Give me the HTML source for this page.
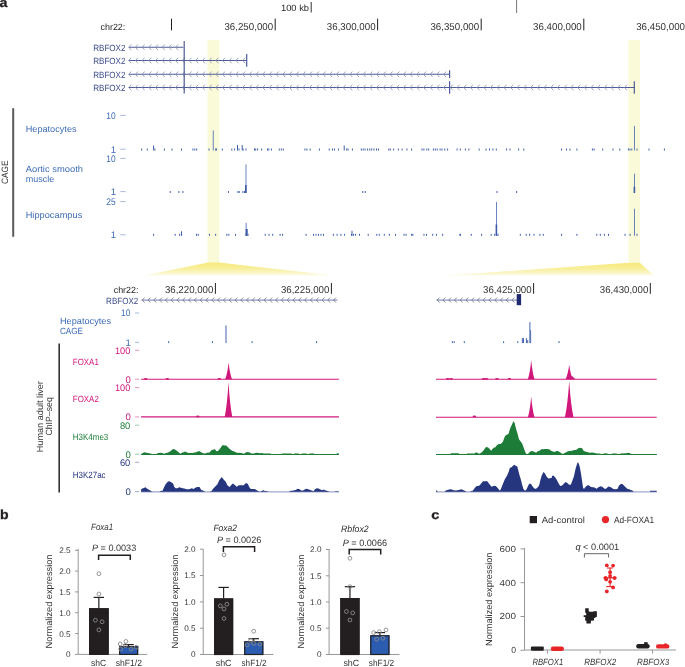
<!DOCTYPE html>
<html><head><meta charset="utf-8"><style>
html,body{margin:0;padding:0;background:#fff;}
svg{display:block;font-family:"Liberation Sans", sans-serif;will-change:transform;text-rendering:geometricPrecision;}
</style></head><body>
<svg width="685" height="667" viewBox="0 0 685 667">
<rect x="0" y="0" width="685" height="667" fill="#fff"/>
<text x="-0.40" y="7.20" font-size="13.2" fill="#231f20" textLength="7.90" lengthAdjust="spacingAndGlyphs" font-weight="bold" stroke="#231f20" stroke-width="0.3">a</text>
<rect x="207.50" y="40.00" width="11.80" height="222.50" fill="#fafad8" />
<rect x="628.50" y="40.00" width="11.50" height="222.80" fill="#fafad8" />
<defs><linearGradient id="tg" x1="0" y1="0" x2="0" y2="1"><stop offset="0" stop-color="#f6ea7a"/><stop offset="0.5" stop-color="#f8ef9e"/><stop offset="1" stop-color="#fdfbe8"/></linearGradient><linearGradient id="tgl" x1="1" y1="0" x2="0" y2="0"><stop offset="0" stop-color="#fff" stop-opacity="0"/><stop offset="1" stop-color="#fff" stop-opacity="0.7"/></linearGradient><linearGradient id="tgr" x1="0" y1="0" x2="1" y2="0"><stop offset="0" stop-color="#fff" stop-opacity="0"/><stop offset="1" stop-color="#fff" stop-opacity="0.7"/></linearGradient></defs>
<polygon points="208,262.5 219.3,262.5 334,275.5 144.5,275.5" fill="url(#tg)"/>
<polygon points="628.9,262.8 639.8,262.8 654,275.6 443.2,275.6" fill="url(#tg)"/>
<text x="281.00" y="11.20" font-size="9" fill="#231f20" textLength="28.00" lengthAdjust="spacingAndGlyphs">100 kb</text>
<line x1="311.20" y1="2.00" x2="311.20" y2="12.50" stroke="#333" stroke-width="1" />
<line x1="516.60" y1="0.00" x2="516.60" y2="13.00" stroke="#777" stroke-width="1" />
<text x="100.50" y="29.60" font-size="9" fill="#231f20" textLength="24.80" lengthAdjust="spacingAndGlyphs">chr22:</text>
<line x1="171.50" y1="18.60" x2="171.50" y2="30.40" stroke="#231f20" stroke-width="1" />
<line x1="275.20" y1="18.60" x2="275.20" y2="30.40" stroke="#231f20" stroke-width="1" />
<line x1="377.60" y1="18.60" x2="377.60" y2="30.40" stroke="#231f20" stroke-width="1" />
<line x1="481.20" y1="18.60" x2="481.20" y2="30.40" stroke="#231f20" stroke-width="1" />
<line x1="583.80" y1="18.60" x2="583.80" y2="30.40" stroke="#231f20" stroke-width="1" />
<line x1="687.00" y1="18.60" x2="687.00" y2="30.40" stroke="#231f20" stroke-width="1" />
<text x="224.40" y="30.00" font-size="10" fill="#333" textLength="48.80" lengthAdjust="spacingAndGlyphs">36,250,000</text>
<text x="326.80" y="30.00" font-size="10" fill="#333" textLength="48.80" lengthAdjust="spacingAndGlyphs">36,300,000</text>
<text x="430.40" y="30.00" font-size="10" fill="#333" textLength="48.80" lengthAdjust="spacingAndGlyphs">36,350,000</text>
<text x="533.00" y="30.00" font-size="10" fill="#333" textLength="48.80" lengthAdjust="spacingAndGlyphs">36,400,000</text>
<text x="636.20" y="30.00" font-size="10" fill="#333" textLength="48.80" lengthAdjust="spacingAndGlyphs">36,450,000</text>
<text x="93.20" y="50.70" font-size="9" fill="#3d4b8c" textLength="32.30" lengthAdjust="spacingAndGlyphs">RBFOX2</text>
<text x="93.20" y="63.90" font-size="9" fill="#3d4b8c" textLength="32.30" lengthAdjust="spacingAndGlyphs">RBFOX2</text>
<text x="93.20" y="77.70" font-size="9" fill="#3d4b8c" textLength="32.30" lengthAdjust="spacingAndGlyphs">RBFOX2</text>
<text x="93.20" y="90.90" font-size="9" fill="#3d4b8c" textLength="32.30" lengthAdjust="spacingAndGlyphs">RBFOX2</text>
<line x1="128.80" y1="47.30" x2="183.40" y2="47.30" stroke="#4d5b98" stroke-width="1.1" />
<path d="M131.20,44.50 L128.80,47.30 L131.20,50.10" fill="none" stroke="#8a8fa8" stroke-width="0.8"/>
<path d="M137.90,44.50 L135.50,47.30 L137.90,50.10" fill="none" stroke="#8a8fa8" stroke-width="0.8"/>
<path d="M144.60,44.50 L142.20,47.30 L144.60,50.10" fill="none" stroke="#8a8fa8" stroke-width="0.8"/>
<path d="M151.30,44.50 L148.90,47.30 L151.30,50.10" fill="none" stroke="#8a8fa8" stroke-width="0.8"/>
<path d="M158.00,44.50 L155.60,47.30 L158.00,50.10" fill="none" stroke="#8a8fa8" stroke-width="0.8"/>
<path d="M164.70,44.50 L162.30,47.30 L164.70,50.10" fill="none" stroke="#8a8fa8" stroke-width="0.8"/>
<path d="M171.40,44.50 L169.00,47.30 L171.40,50.10" fill="none" stroke="#8a8fa8" stroke-width="0.8"/>
<path d="M178.10,44.50 L175.70,47.30 L178.10,50.10" fill="none" stroke="#8a8fa8" stroke-width="0.8"/>
<line x1="128.80" y1="60.50" x2="246.70" y2="60.50" stroke="#4d5b98" stroke-width="1.1" />
<path d="M131.20,57.70 L128.80,60.50 L131.20,63.30" fill="none" stroke="#8a8fa8" stroke-width="0.8"/>
<path d="M137.90,57.70 L135.50,60.50 L137.90,63.30" fill="none" stroke="#8a8fa8" stroke-width="0.8"/>
<path d="M144.60,57.70 L142.20,60.50 L144.60,63.30" fill="none" stroke="#8a8fa8" stroke-width="0.8"/>
<path d="M151.30,57.70 L148.90,60.50 L151.30,63.30" fill="none" stroke="#8a8fa8" stroke-width="0.8"/>
<path d="M158.00,57.70 L155.60,60.50 L158.00,63.30" fill="none" stroke="#8a8fa8" stroke-width="0.8"/>
<path d="M164.70,57.70 L162.30,60.50 L164.70,63.30" fill="none" stroke="#8a8fa8" stroke-width="0.8"/>
<path d="M171.40,57.70 L169.00,60.50 L171.40,63.30" fill="none" stroke="#8a8fa8" stroke-width="0.8"/>
<path d="M178.10,57.70 L175.70,60.50 L178.10,63.30" fill="none" stroke="#8a8fa8" stroke-width="0.8"/>
<path d="M184.80,57.70 L182.40,60.50 L184.80,63.30" fill="none" stroke="#8a8fa8" stroke-width="0.8"/>
<path d="M191.50,57.70 L189.10,60.50 L191.50,63.30" fill="none" stroke="#8a8fa8" stroke-width="0.8"/>
<path d="M198.20,57.70 L195.80,60.50 L198.20,63.30" fill="none" stroke="#8a8fa8" stroke-width="0.8"/>
<path d="M204.90,57.70 L202.50,60.50 L204.90,63.30" fill="none" stroke="#8a8fa8" stroke-width="0.8"/>
<path d="M211.60,57.70 L209.20,60.50 L211.60,63.30" fill="none" stroke="#8a8fa8" stroke-width="0.8"/>
<path d="M218.30,57.70 L215.90,60.50 L218.30,63.30" fill="none" stroke="#8a8fa8" stroke-width="0.8"/>
<path d="M225.00,57.70 L222.60,60.50 L225.00,63.30" fill="none" stroke="#8a8fa8" stroke-width="0.8"/>
<path d="M231.70,57.70 L229.30,60.50 L231.70,63.30" fill="none" stroke="#8a8fa8" stroke-width="0.8"/>
<path d="M238.40,57.70 L236.00,60.50 L238.40,63.30" fill="none" stroke="#8a8fa8" stroke-width="0.8"/>
<path d="M245.10,57.70 L242.70,60.50 L245.10,63.30" fill="none" stroke="#8a8fa8" stroke-width="0.8"/>
<line x1="128.80" y1="74.30" x2="449.60" y2="74.30" stroke="#4d5b98" stroke-width="1.1" />
<path d="M131.20,71.50 L128.80,74.30 L131.20,77.10" fill="none" stroke="#8a8fa8" stroke-width="0.8"/>
<path d="M137.90,71.50 L135.50,74.30 L137.90,77.10" fill="none" stroke="#8a8fa8" stroke-width="0.8"/>
<path d="M144.60,71.50 L142.20,74.30 L144.60,77.10" fill="none" stroke="#8a8fa8" stroke-width="0.8"/>
<path d="M151.30,71.50 L148.90,74.30 L151.30,77.10" fill="none" stroke="#8a8fa8" stroke-width="0.8"/>
<path d="M158.00,71.50 L155.60,74.30 L158.00,77.10" fill="none" stroke="#8a8fa8" stroke-width="0.8"/>
<path d="M164.70,71.50 L162.30,74.30 L164.70,77.10" fill="none" stroke="#8a8fa8" stroke-width="0.8"/>
<path d="M171.40,71.50 L169.00,74.30 L171.40,77.10" fill="none" stroke="#8a8fa8" stroke-width="0.8"/>
<path d="M178.10,71.50 L175.70,74.30 L178.10,77.10" fill="none" stroke="#8a8fa8" stroke-width="0.8"/>
<path d="M184.80,71.50 L182.40,74.30 L184.80,77.10" fill="none" stroke="#8a8fa8" stroke-width="0.8"/>
<path d="M191.50,71.50 L189.10,74.30 L191.50,77.10" fill="none" stroke="#8a8fa8" stroke-width="0.8"/>
<path d="M198.20,71.50 L195.80,74.30 L198.20,77.10" fill="none" stroke="#8a8fa8" stroke-width="0.8"/>
<path d="M204.90,71.50 L202.50,74.30 L204.90,77.10" fill="none" stroke="#8a8fa8" stroke-width="0.8"/>
<path d="M211.60,71.50 L209.20,74.30 L211.60,77.10" fill="none" stroke="#8a8fa8" stroke-width="0.8"/>
<path d="M218.30,71.50 L215.90,74.30 L218.30,77.10" fill="none" stroke="#8a8fa8" stroke-width="0.8"/>
<path d="M225.00,71.50 L222.60,74.30 L225.00,77.10" fill="none" stroke="#8a8fa8" stroke-width="0.8"/>
<path d="M231.70,71.50 L229.30,74.30 L231.70,77.10" fill="none" stroke="#8a8fa8" stroke-width="0.8"/>
<path d="M238.40,71.50 L236.00,74.30 L238.40,77.10" fill="none" stroke="#8a8fa8" stroke-width="0.8"/>
<path d="M245.10,71.50 L242.70,74.30 L245.10,77.10" fill="none" stroke="#8a8fa8" stroke-width="0.8"/>
<path d="M251.80,71.50 L249.40,74.30 L251.80,77.10" fill="none" stroke="#8a8fa8" stroke-width="0.8"/>
<path d="M258.50,71.50 L256.10,74.30 L258.50,77.10" fill="none" stroke="#8a8fa8" stroke-width="0.8"/>
<path d="M265.20,71.50 L262.80,74.30 L265.20,77.10" fill="none" stroke="#8a8fa8" stroke-width="0.8"/>
<path d="M271.90,71.50 L269.50,74.30 L271.90,77.10" fill="none" stroke="#8a8fa8" stroke-width="0.8"/>
<path d="M278.60,71.50 L276.20,74.30 L278.60,77.10" fill="none" stroke="#8a8fa8" stroke-width="0.8"/>
<path d="M285.30,71.50 L282.90,74.30 L285.30,77.10" fill="none" stroke="#8a8fa8" stroke-width="0.8"/>
<path d="M292.00,71.50 L289.60,74.30 L292.00,77.10" fill="none" stroke="#8a8fa8" stroke-width="0.8"/>
<path d="M298.70,71.50 L296.30,74.30 L298.70,77.10" fill="none" stroke="#8a8fa8" stroke-width="0.8"/>
<path d="M305.40,71.50 L303.00,74.30 L305.40,77.10" fill="none" stroke="#8a8fa8" stroke-width="0.8"/>
<path d="M312.10,71.50 L309.70,74.30 L312.10,77.10" fill="none" stroke="#8a8fa8" stroke-width="0.8"/>
<path d="M318.80,71.50 L316.40,74.30 L318.80,77.10" fill="none" stroke="#8a8fa8" stroke-width="0.8"/>
<path d="M325.50,71.50 L323.10,74.30 L325.50,77.10" fill="none" stroke="#8a8fa8" stroke-width="0.8"/>
<path d="M332.20,71.50 L329.80,74.30 L332.20,77.10" fill="none" stroke="#8a8fa8" stroke-width="0.8"/>
<path d="M338.90,71.50 L336.50,74.30 L338.90,77.10" fill="none" stroke="#8a8fa8" stroke-width="0.8"/>
<path d="M345.60,71.50 L343.20,74.30 L345.60,77.10" fill="none" stroke="#8a8fa8" stroke-width="0.8"/>
<path d="M352.30,71.50 L349.90,74.30 L352.30,77.10" fill="none" stroke="#8a8fa8" stroke-width="0.8"/>
<path d="M359.00,71.50 L356.60,74.30 L359.00,77.10" fill="none" stroke="#8a8fa8" stroke-width="0.8"/>
<path d="M365.70,71.50 L363.30,74.30 L365.70,77.10" fill="none" stroke="#8a8fa8" stroke-width="0.8"/>
<path d="M372.40,71.50 L370.00,74.30 L372.40,77.10" fill="none" stroke="#8a8fa8" stroke-width="0.8"/>
<path d="M379.10,71.50 L376.70,74.30 L379.10,77.10" fill="none" stroke="#8a8fa8" stroke-width="0.8"/>
<path d="M385.80,71.50 L383.40,74.30 L385.80,77.10" fill="none" stroke="#8a8fa8" stroke-width="0.8"/>
<path d="M392.50,71.50 L390.10,74.30 L392.50,77.10" fill="none" stroke="#8a8fa8" stroke-width="0.8"/>
<path d="M399.20,71.50 L396.80,74.30 L399.20,77.10" fill="none" stroke="#8a8fa8" stroke-width="0.8"/>
<path d="M405.90,71.50 L403.50,74.30 L405.90,77.10" fill="none" stroke="#8a8fa8" stroke-width="0.8"/>
<path d="M412.60,71.50 L410.20,74.30 L412.60,77.10" fill="none" stroke="#8a8fa8" stroke-width="0.8"/>
<path d="M419.30,71.50 L416.90,74.30 L419.30,77.10" fill="none" stroke="#8a8fa8" stroke-width="0.8"/>
<path d="M426.00,71.50 L423.60,74.30 L426.00,77.10" fill="none" stroke="#8a8fa8" stroke-width="0.8"/>
<path d="M432.70,71.50 L430.30,74.30 L432.70,77.10" fill="none" stroke="#8a8fa8" stroke-width="0.8"/>
<path d="M439.40,71.50 L437.00,74.30 L439.40,77.10" fill="none" stroke="#8a8fa8" stroke-width="0.8"/>
<path d="M446.10,71.50 L443.70,74.30 L446.10,77.10" fill="none" stroke="#8a8fa8" stroke-width="0.8"/>
<line x1="128.80" y1="87.50" x2="634.30" y2="87.50" stroke="#4d5b98" stroke-width="1.1" />
<path d="M131.20,84.70 L128.80,87.50 L131.20,90.30" fill="none" stroke="#8a8fa8" stroke-width="0.8"/>
<path d="M137.90,84.70 L135.50,87.50 L137.90,90.30" fill="none" stroke="#8a8fa8" stroke-width="0.8"/>
<path d="M144.60,84.70 L142.20,87.50 L144.60,90.30" fill="none" stroke="#8a8fa8" stroke-width="0.8"/>
<path d="M151.30,84.70 L148.90,87.50 L151.30,90.30" fill="none" stroke="#8a8fa8" stroke-width="0.8"/>
<path d="M158.00,84.70 L155.60,87.50 L158.00,90.30" fill="none" stroke="#8a8fa8" stroke-width="0.8"/>
<path d="M164.70,84.70 L162.30,87.50 L164.70,90.30" fill="none" stroke="#8a8fa8" stroke-width="0.8"/>
<path d="M171.40,84.70 L169.00,87.50 L171.40,90.30" fill="none" stroke="#8a8fa8" stroke-width="0.8"/>
<path d="M178.10,84.70 L175.70,87.50 L178.10,90.30" fill="none" stroke="#8a8fa8" stroke-width="0.8"/>
<path d="M184.80,84.70 L182.40,87.50 L184.80,90.30" fill="none" stroke="#8a8fa8" stroke-width="0.8"/>
<path d="M191.50,84.70 L189.10,87.50 L191.50,90.30" fill="none" stroke="#8a8fa8" stroke-width="0.8"/>
<path d="M198.20,84.70 L195.80,87.50 L198.20,90.30" fill="none" stroke="#8a8fa8" stroke-width="0.8"/>
<path d="M204.90,84.70 L202.50,87.50 L204.90,90.30" fill="none" stroke="#8a8fa8" stroke-width="0.8"/>
<path d="M211.60,84.70 L209.20,87.50 L211.60,90.30" fill="none" stroke="#8a8fa8" stroke-width="0.8"/>
<path d="M218.30,84.70 L215.90,87.50 L218.30,90.30" fill="none" stroke="#8a8fa8" stroke-width="0.8"/>
<path d="M225.00,84.70 L222.60,87.50 L225.00,90.30" fill="none" stroke="#8a8fa8" stroke-width="0.8"/>
<path d="M231.70,84.70 L229.30,87.50 L231.70,90.30" fill="none" stroke="#8a8fa8" stroke-width="0.8"/>
<path d="M238.40,84.70 L236.00,87.50 L238.40,90.30" fill="none" stroke="#8a8fa8" stroke-width="0.8"/>
<path d="M245.10,84.70 L242.70,87.50 L245.10,90.30" fill="none" stroke="#8a8fa8" stroke-width="0.8"/>
<path d="M251.80,84.70 L249.40,87.50 L251.80,90.30" fill="none" stroke="#8a8fa8" stroke-width="0.8"/>
<path d="M258.50,84.70 L256.10,87.50 L258.50,90.30" fill="none" stroke="#8a8fa8" stroke-width="0.8"/>
<path d="M265.20,84.70 L262.80,87.50 L265.20,90.30" fill="none" stroke="#8a8fa8" stroke-width="0.8"/>
<path d="M271.90,84.70 L269.50,87.50 L271.90,90.30" fill="none" stroke="#8a8fa8" stroke-width="0.8"/>
<path d="M278.60,84.70 L276.20,87.50 L278.60,90.30" fill="none" stroke="#8a8fa8" stroke-width="0.8"/>
<path d="M285.30,84.70 L282.90,87.50 L285.30,90.30" fill="none" stroke="#8a8fa8" stroke-width="0.8"/>
<path d="M292.00,84.70 L289.60,87.50 L292.00,90.30" fill="none" stroke="#8a8fa8" stroke-width="0.8"/>
<path d="M298.70,84.70 L296.30,87.50 L298.70,90.30" fill="none" stroke="#8a8fa8" stroke-width="0.8"/>
<path d="M305.40,84.70 L303.00,87.50 L305.40,90.30" fill="none" stroke="#8a8fa8" stroke-width="0.8"/>
<path d="M312.10,84.70 L309.70,87.50 L312.10,90.30" fill="none" stroke="#8a8fa8" stroke-width="0.8"/>
<path d="M318.80,84.70 L316.40,87.50 L318.80,90.30" fill="none" stroke="#8a8fa8" stroke-width="0.8"/>
<path d="M325.50,84.70 L323.10,87.50 L325.50,90.30" fill="none" stroke="#8a8fa8" stroke-width="0.8"/>
<path d="M332.20,84.70 L329.80,87.50 L332.20,90.30" fill="none" stroke="#8a8fa8" stroke-width="0.8"/>
<path d="M338.90,84.70 L336.50,87.50 L338.90,90.30" fill="none" stroke="#8a8fa8" stroke-width="0.8"/>
<path d="M345.60,84.70 L343.20,87.50 L345.60,90.30" fill="none" stroke="#8a8fa8" stroke-width="0.8"/>
<path d="M352.30,84.70 L349.90,87.50 L352.30,90.30" fill="none" stroke="#8a8fa8" stroke-width="0.8"/>
<path d="M359.00,84.70 L356.60,87.50 L359.00,90.30" fill="none" stroke="#8a8fa8" stroke-width="0.8"/>
<path d="M365.70,84.70 L363.30,87.50 L365.70,90.30" fill="none" stroke="#8a8fa8" stroke-width="0.8"/>
<path d="M372.40,84.70 L370.00,87.50 L372.40,90.30" fill="none" stroke="#8a8fa8" stroke-width="0.8"/>
<path d="M379.10,84.70 L376.70,87.50 L379.10,90.30" fill="none" stroke="#8a8fa8" stroke-width="0.8"/>
<path d="M385.80,84.70 L383.40,87.50 L385.80,90.30" fill="none" stroke="#8a8fa8" stroke-width="0.8"/>
<path d="M392.50,84.70 L390.10,87.50 L392.50,90.30" fill="none" stroke="#8a8fa8" stroke-width="0.8"/>
<path d="M399.20,84.70 L396.80,87.50 L399.20,90.30" fill="none" stroke="#8a8fa8" stroke-width="0.8"/>
<path d="M405.90,84.70 L403.50,87.50 L405.90,90.30" fill="none" stroke="#8a8fa8" stroke-width="0.8"/>
<path d="M412.60,84.70 L410.20,87.50 L412.60,90.30" fill="none" stroke="#8a8fa8" stroke-width="0.8"/>
<path d="M419.30,84.70 L416.90,87.50 L419.30,90.30" fill="none" stroke="#8a8fa8" stroke-width="0.8"/>
<path d="M426.00,84.70 L423.60,87.50 L426.00,90.30" fill="none" stroke="#8a8fa8" stroke-width="0.8"/>
<path d="M432.70,84.70 L430.30,87.50 L432.70,90.30" fill="none" stroke="#8a8fa8" stroke-width="0.8"/>
<path d="M439.40,84.70 L437.00,87.50 L439.40,90.30" fill="none" stroke="#8a8fa8" stroke-width="0.8"/>
<path d="M446.10,84.70 L443.70,87.50 L446.10,90.30" fill="none" stroke="#8a8fa8" stroke-width="0.8"/>
<path d="M452.80,84.70 L450.40,87.50 L452.80,90.30" fill="none" stroke="#8a8fa8" stroke-width="0.8"/>
<path d="M459.50,84.70 L457.10,87.50 L459.50,90.30" fill="none" stroke="#8a8fa8" stroke-width="0.8"/>
<path d="M466.20,84.70 L463.80,87.50 L466.20,90.30" fill="none" stroke="#8a8fa8" stroke-width="0.8"/>
<path d="M472.90,84.70 L470.50,87.50 L472.90,90.30" fill="none" stroke="#8a8fa8" stroke-width="0.8"/>
<path d="M479.60,84.70 L477.20,87.50 L479.60,90.30" fill="none" stroke="#8a8fa8" stroke-width="0.8"/>
<path d="M486.30,84.70 L483.90,87.50 L486.30,90.30" fill="none" stroke="#8a8fa8" stroke-width="0.8"/>
<path d="M493.00,84.70 L490.60,87.50 L493.00,90.30" fill="none" stroke="#8a8fa8" stroke-width="0.8"/>
<path d="M499.70,84.70 L497.30,87.50 L499.70,90.30" fill="none" stroke="#8a8fa8" stroke-width="0.8"/>
<path d="M506.40,84.70 L504.00,87.50 L506.40,90.30" fill="none" stroke="#8a8fa8" stroke-width="0.8"/>
<path d="M513.10,84.70 L510.70,87.50 L513.10,90.30" fill="none" stroke="#8a8fa8" stroke-width="0.8"/>
<path d="M519.80,84.70 L517.40,87.50 L519.80,90.30" fill="none" stroke="#8a8fa8" stroke-width="0.8"/>
<path d="M526.50,84.70 L524.10,87.50 L526.50,90.30" fill="none" stroke="#8a8fa8" stroke-width="0.8"/>
<path d="M533.20,84.70 L530.80,87.50 L533.20,90.30" fill="none" stroke="#8a8fa8" stroke-width="0.8"/>
<path d="M539.90,84.70 L537.50,87.50 L539.90,90.30" fill="none" stroke="#8a8fa8" stroke-width="0.8"/>
<path d="M546.60,84.70 L544.20,87.50 L546.60,90.30" fill="none" stroke="#8a8fa8" stroke-width="0.8"/>
<path d="M553.30,84.70 L550.90,87.50 L553.30,90.30" fill="none" stroke="#8a8fa8" stroke-width="0.8"/>
<path d="M560.00,84.70 L557.60,87.50 L560.00,90.30" fill="none" stroke="#8a8fa8" stroke-width="0.8"/>
<path d="M566.70,84.70 L564.30,87.50 L566.70,90.30" fill="none" stroke="#8a8fa8" stroke-width="0.8"/>
<path d="M573.40,84.70 L571.00,87.50 L573.40,90.30" fill="none" stroke="#8a8fa8" stroke-width="0.8"/>
<path d="M580.10,84.70 L577.70,87.50 L580.10,90.30" fill="none" stroke="#8a8fa8" stroke-width="0.8"/>
<path d="M586.80,84.70 L584.40,87.50 L586.80,90.30" fill="none" stroke="#8a8fa8" stroke-width="0.8"/>
<path d="M593.50,84.70 L591.10,87.50 L593.50,90.30" fill="none" stroke="#8a8fa8" stroke-width="0.8"/>
<path d="M600.20,84.70 L597.80,87.50 L600.20,90.30" fill="none" stroke="#8a8fa8" stroke-width="0.8"/>
<path d="M606.90,84.70 L604.50,87.50 L606.90,90.30" fill="none" stroke="#8a8fa8" stroke-width="0.8"/>
<path d="M613.60,84.70 L611.20,87.50 L613.60,90.30" fill="none" stroke="#8a8fa8" stroke-width="0.8"/>
<path d="M620.30,84.70 L617.90,87.50 L620.30,90.30" fill="none" stroke="#8a8fa8" stroke-width="0.8"/>
<path d="M627.00,84.70 L624.60,87.50 L627.00,90.30" fill="none" stroke="#8a8fa8" stroke-width="0.8"/>
<line x1="184.20" y1="41.00" x2="184.20" y2="93.50" stroke="#4d5b98" stroke-width="1.2" />
<line x1="246.70" y1="54.00" x2="246.70" y2="66.80" stroke="#4d5b98" stroke-width="1.2" />
<line x1="449.60" y1="70.20" x2="449.60" y2="78.00" stroke="#4d5b98" stroke-width="1.2" />
<line x1="449.60" y1="81.20" x2="449.60" y2="93.80" stroke="#4d5b98" stroke-width="1.2" />
<line x1="634.30" y1="81.20" x2="634.30" y2="93.80" stroke="#4d5b98" stroke-width="1.2" />
<line x1="13.20" y1="108.20" x2="13.20" y2="236.80" stroke="#5a5a5a" stroke-width="2" />
<text transform="translate(8.1,184) rotate(-90)" font-size="9.2" fill="#333" textLength="23.5" lengthAdjust="spacingAndGlyphs">CAGE</text>
<text x="25.70" y="132.30" font-size="9" fill="#3e6cb6" textLength="50.90" lengthAdjust="spacingAndGlyphs">Hepatocytes</text>
<text x="25.70" y="172.30" font-size="9" fill="#3e6cb6" textLength="57.30" lengthAdjust="spacingAndGlyphs">Aortic smooth</text>
<text x="25.70" y="182.00" font-size="9" fill="#3e6cb6">muscle</text>
<text x="25.70" y="218.20" font-size="9" fill="#3e6cb6" textLength="56.60" lengthAdjust="spacingAndGlyphs">Hippocampus</text>
<text x="106.30" y="118.80" font-size="9.6" fill="#3e6cb6" textLength="9.30" lengthAdjust="spacingAndGlyphs">10</text>
<line x1="120.30" y1="115.40" x2="125.70" y2="115.40" stroke="#9fb2d8" stroke-width="0.9" />
<text x="116.20" y="152.60" font-size="9.6" fill="#3e6cb6" text-anchor="end">1</text>
<line x1="120.30" y1="149.20" x2="125.70" y2="149.20" stroke="#9fb2d8" stroke-width="0.9" />
<text x="106.30" y="161.80" font-size="9.6" fill="#3e6cb6" textLength="9.30" lengthAdjust="spacingAndGlyphs">10</text>
<line x1="120.30" y1="158.40" x2="125.70" y2="158.40" stroke="#9fb2d8" stroke-width="0.9" />
<text x="116.20" y="195.00" font-size="9.6" fill="#3e6cb6" text-anchor="end">1</text>
<line x1="120.30" y1="191.60" x2="125.70" y2="191.60" stroke="#9fb2d8" stroke-width="0.9" />
<text x="106.30" y="205.00" font-size="9.6" fill="#3e6cb6" textLength="9.30" lengthAdjust="spacingAndGlyphs">25</text>
<line x1="120.30" y1="201.60" x2="125.70" y2="201.60" stroke="#9fb2d8" stroke-width="0.9" />
<text x="116.20" y="238.20" font-size="9.6" fill="#3e6cb6" text-anchor="end">1</text>
<line x1="120.30" y1="234.80" x2="125.70" y2="234.80" stroke="#9fb2d8" stroke-width="0.9" />
<rect x="141.10" y="148.50" width="1.00" height="2.00" fill="#4160ad" />
<rect x="146.80" y="148.50" width="1.00" height="2.00" fill="#4160ad" />
<rect x="154.40" y="148.50" width="1.00" height="2.00" fill="#4160ad" />
<rect x="163.90" y="148.50" width="1.00" height="2.00" fill="#4160ad" />
<rect x="171.50" y="148.50" width="1.00" height="2.00" fill="#4160ad" />
<rect x="181.00" y="148.50" width="1.00" height="2.00" fill="#4160ad" />
<rect x="192.40" y="148.50" width="1.00" height="2.00" fill="#4160ad" />
<rect x="194.30" y="148.50" width="1.00" height="2.00" fill="#4160ad" />
<rect x="196.20" y="148.50" width="1.00" height="2.00" fill="#4160ad" />
<rect x="208.50" y="148.50" width="1.00" height="2.00" fill="#4160ad" />
<rect x="215.10" y="148.50" width="1.00" height="2.00" fill="#4160ad" />
<rect x="216.10" y="148.50" width="1.00" height="2.00" fill="#4160ad" />
<rect x="221.80" y="148.50" width="1.00" height="2.00" fill="#4160ad" />
<rect x="231.30" y="148.50" width="1.00" height="2.00" fill="#4160ad" />
<rect x="234.10" y="148.50" width="1.00" height="2.00" fill="#4160ad" />
<rect x="238.50" y="148.50" width="1.00" height="2.00" fill="#4160ad" />
<rect x="242.70" y="148.50" width="1.00" height="2.00" fill="#4160ad" />
<rect x="245.50" y="148.50" width="1.00" height="2.00" fill="#4160ad" />
<rect x="254.00" y="148.50" width="1.00" height="2.00" fill="#4160ad" />
<rect x="255.20" y="148.50" width="1.00" height="2.00" fill="#4160ad" />
<rect x="257.10" y="148.50" width="1.00" height="2.00" fill="#4160ad" />
<rect x="261.10" y="148.50" width="1.00" height="2.00" fill="#4160ad" />
<rect x="267.00" y="148.50" width="1.00" height="2.00" fill="#4160ad" />
<rect x="268.30" y="148.50" width="1.00" height="2.00" fill="#4160ad" />
<rect x="270.90" y="148.50" width="1.00" height="2.00" fill="#4160ad" />
<rect x="278.80" y="148.50" width="1.00" height="2.00" fill="#4160ad" />
<rect x="280.80" y="148.50" width="1.00" height="2.00" fill="#4160ad" />
<rect x="282.80" y="148.50" width="1.00" height="2.00" fill="#4160ad" />
<rect x="304.40" y="148.50" width="1.00" height="2.00" fill="#4160ad" />
<rect x="306.40" y="148.50" width="1.00" height="2.00" fill="#4160ad" />
<rect x="309.70" y="148.50" width="1.00" height="2.00" fill="#4160ad" />
<rect x="318.90" y="148.50" width="1.00" height="2.00" fill="#4160ad" />
<rect x="328.70" y="148.50" width="1.00" height="2.00" fill="#4160ad" />
<rect x="332.00" y="148.50" width="1.00" height="2.00" fill="#4160ad" />
<rect x="334.00" y="148.50" width="1.00" height="2.00" fill="#4160ad" />
<rect x="337.90" y="148.50" width="1.00" height="2.00" fill="#4160ad" />
<rect x="346.20" y="148.50" width="1.00" height="2.00" fill="#4160ad" />
<rect x="347.50" y="148.50" width="1.00" height="2.00" fill="#4160ad" />
<rect x="351.90" y="148.50" width="1.00" height="2.00" fill="#4160ad" />
<rect x="360.80" y="148.50" width="1.00" height="2.00" fill="#4160ad" />
<rect x="362.70" y="148.50" width="1.00" height="2.00" fill="#4160ad" />
<rect x="364.60" y="148.50" width="1.00" height="2.00" fill="#4160ad" />
<rect x="367.10" y="148.50" width="1.00" height="2.00" fill="#4160ad" />
<rect x="369.30" y="148.50" width="1.00" height="2.00" fill="#4160ad" />
<rect x="371.20" y="148.50" width="1.00" height="2.00" fill="#4160ad" />
<rect x="373.50" y="148.50" width="1.00" height="2.00" fill="#4160ad" />
<rect x="376.00" y="148.50" width="1.00" height="2.00" fill="#4160ad" />
<rect x="377.90" y="148.50" width="1.00" height="2.00" fill="#4160ad" />
<rect x="388.30" y="148.50" width="1.00" height="2.00" fill="#4160ad" />
<rect x="389.80" y="148.50" width="1.00" height="2.00" fill="#4160ad" />
<rect x="393.10" y="148.50" width="1.00" height="2.00" fill="#4160ad" />
<rect x="397.80" y="148.50" width="1.00" height="2.00" fill="#4160ad" />
<rect x="401.60" y="148.50" width="1.00" height="2.00" fill="#4160ad" />
<rect x="406.40" y="148.50" width="1.00" height="2.00" fill="#4160ad" />
<rect x="411.10" y="148.50" width="1.00" height="2.00" fill="#4160ad" />
<rect x="421.50" y="148.50" width="1.00" height="2.00" fill="#4160ad" />
<rect x="423.40" y="148.50" width="1.00" height="2.00" fill="#4160ad" />
<rect x="426.30" y="148.50" width="1.00" height="2.00" fill="#4160ad" />
<rect x="428.20" y="148.50" width="1.00" height="2.00" fill="#4160ad" />
<rect x="432.90" y="148.50" width="1.00" height="2.00" fill="#4160ad" />
<rect x="434.80" y="148.50" width="1.00" height="2.00" fill="#4160ad" />
<rect x="436.70" y="148.50" width="1.00" height="2.00" fill="#4160ad" />
<rect x="439.60" y="148.50" width="1.00" height="2.00" fill="#4160ad" />
<rect x="441.50" y="148.50" width="1.00" height="2.00" fill="#4160ad" />
<rect x="444.30" y="148.50" width="1.00" height="2.00" fill="#4160ad" />
<rect x="447.10" y="148.50" width="1.00" height="2.00" fill="#4160ad" />
<rect x="456.60" y="148.50" width="1.00" height="2.00" fill="#4160ad" />
<rect x="459.80" y="148.50" width="1.00" height="2.00" fill="#4160ad" />
<rect x="464.90" y="148.50" width="1.00" height="2.00" fill="#4160ad" />
<rect x="468.40" y="148.50" width="1.00" height="2.00" fill="#4160ad" />
<rect x="478.70" y="148.50" width="1.00" height="2.00" fill="#4160ad" />
<rect x="485.50" y="148.50" width="1.00" height="2.00" fill="#4160ad" />
<rect x="489.00" y="148.50" width="1.00" height="2.00" fill="#4160ad" />
<rect x="492.40" y="148.50" width="1.00" height="2.00" fill="#4160ad" />
<rect x="495.80" y="148.50" width="1.00" height="2.00" fill="#4160ad" />
<rect x="506.10" y="148.50" width="1.00" height="2.00" fill="#4160ad" />
<rect x="509.50" y="148.50" width="1.00" height="2.00" fill="#4160ad" />
<rect x="518.10" y="148.50" width="1.00" height="2.00" fill="#4160ad" />
<rect x="523.30" y="148.50" width="1.00" height="2.00" fill="#4160ad" />
<rect x="561.00" y="148.50" width="1.00" height="2.00" fill="#4160ad" />
<rect x="566.10" y="148.50" width="1.00" height="2.00" fill="#4160ad" />
<rect x="569.50" y="148.50" width="1.00" height="2.00" fill="#4160ad" />
<rect x="576.40" y="148.50" width="1.00" height="2.00" fill="#4160ad" />
<rect x="591.90" y="148.50" width="1.00" height="2.00" fill="#4160ad" />
<rect x="593.60" y="148.50" width="1.00" height="2.00" fill="#4160ad" />
<rect x="602.20" y="148.50" width="1.00" height="2.00" fill="#4160ad" />
<rect x="612.50" y="148.50" width="1.00" height="2.00" fill="#4160ad" />
<rect x="619.30" y="148.50" width="1.00" height="2.00" fill="#4160ad" />
<rect x="627.90" y="148.50" width="1.00" height="2.00" fill="#4160ad" />
<rect x="629.50" y="148.50" width="1.00" height="2.00" fill="#4160ad" />
<rect x="631.30" y="148.50" width="1.00" height="2.00" fill="#4160ad" />
<rect x="636.50" y="148.50" width="1.00" height="2.00" fill="#4160ad" />
<rect x="648.50" y="148.50" width="1.00" height="2.00" fill="#4160ad" />
<rect x="663.90" y="148.50" width="1.00" height="2.00" fill="#4160ad" />
<rect x="153.10" y="145.50" width="1.00" height="5.00" fill="#4160ad" />
<rect x="237.00" y="145.00" width="1.00" height="5.50" fill="#4160ad" />
<rect x="241.70" y="145.00" width="1.00" height="5.50" fill="#4160ad" />
<rect x="343.70" y="145.50" width="1.00" height="5.00" fill="#4160ad" />
<rect x="212.80" y="130.50" width="0.80" height="20.00" fill="#4566b5" />
<rect x="634.00" y="126.00" width="0.80" height="24.50" fill="#4566b5" />
<rect x="169.70" y="191.00" width="1.00" height="2.00" fill="#4160ad" />
<rect x="178.40" y="191.00" width="1.00" height="2.00" fill="#4160ad" />
<rect x="182.40" y="191.00" width="1.00" height="2.00" fill="#4160ad" />
<rect x="228.00" y="191.00" width="1.00" height="2.00" fill="#4160ad" />
<rect x="237.40" y="191.00" width="1.00" height="2.00" fill="#4160ad" />
<rect x="238.70" y="191.00" width="1.00" height="2.00" fill="#4160ad" />
<rect x="242.40" y="191.00" width="1.00" height="2.00" fill="#4160ad" />
<rect x="244.10" y="191.00" width="1.00" height="2.00" fill="#4160ad" />
<rect x="362.20" y="191.00" width="1.00" height="2.00" fill="#4160ad" />
<rect x="364.70" y="191.00" width="1.00" height="2.00" fill="#4160ad" />
<rect x="496.50" y="191.00" width="1.00" height="2.00" fill="#4160ad" />
<rect x="516.10" y="191.00" width="1.00" height="2.00" fill="#4160ad" />
<rect x="245.60" y="164.40" width="0.80" height="28.60" fill="#4566b5" />
<rect x="245.00" y="185.00" width="1.60" height="8.00" fill="#3d5aa8" />
<rect x="634.00" y="173.70" width="0.80" height="19.30" fill="#4566b5" />
<rect x="633.60" y="186.80" width="1.60" height="6.20" fill="#3d5aa8" />
<rect x="153.10" y="233.80" width="1.00" height="2.00" fill="#4160ad" />
<rect x="174.70" y="233.80" width="1.00" height="2.00" fill="#4160ad" />
<rect x="179.10" y="233.80" width="1.00" height="2.00" fill="#4160ad" />
<rect x="181.10" y="233.80" width="1.00" height="2.00" fill="#4160ad" />
<rect x="196.00" y="233.80" width="1.00" height="2.00" fill="#4160ad" />
<rect x="197.70" y="233.80" width="1.00" height="2.00" fill="#4160ad" />
<rect x="208.90" y="233.80" width="1.00" height="2.00" fill="#4160ad" />
<rect x="215.10" y="233.80" width="1.00" height="2.00" fill="#4160ad" />
<rect x="226.30" y="233.80" width="1.00" height="2.00" fill="#4160ad" />
<rect x="228.30" y="233.80" width="1.00" height="2.00" fill="#4160ad" />
<rect x="235.00" y="233.80" width="1.00" height="2.00" fill="#4160ad" />
<rect x="245.50" y="233.80" width="1.00" height="2.00" fill="#4160ad" />
<rect x="247.50" y="233.80" width="1.00" height="2.00" fill="#4160ad" />
<rect x="264.70" y="233.80" width="1.00" height="2.00" fill="#4160ad" />
<rect x="268.50" y="233.80" width="1.00" height="2.00" fill="#4160ad" />
<rect x="272.20" y="233.80" width="1.00" height="2.00" fill="#4160ad" />
<rect x="279.60" y="233.80" width="1.00" height="2.00" fill="#4160ad" />
<rect x="282.10" y="233.80" width="1.00" height="2.00" fill="#4160ad" />
<rect x="305.60" y="233.80" width="1.00" height="2.00" fill="#4160ad" />
<rect x="313.10" y="233.80" width="1.00" height="2.00" fill="#4160ad" />
<rect x="315.50" y="233.80" width="1.00" height="2.00" fill="#4160ad" />
<rect x="318.00" y="233.80" width="1.00" height="2.00" fill="#4160ad" />
<rect x="320.50" y="233.80" width="1.00" height="2.00" fill="#4160ad" />
<rect x="323.00" y="233.80" width="1.00" height="2.00" fill="#4160ad" />
<rect x="332.90" y="233.80" width="1.00" height="2.00" fill="#4160ad" />
<rect x="336.60" y="233.80" width="1.00" height="2.00" fill="#4160ad" />
<rect x="340.40" y="233.80" width="1.00" height="2.00" fill="#4160ad" />
<rect x="344.10" y="233.80" width="1.00" height="2.00" fill="#4160ad" />
<rect x="351.00" y="233.80" width="1.00" height="2.00" fill="#4160ad" />
<rect x="353.00" y="233.80" width="1.00" height="2.00" fill="#4160ad" />
<rect x="355.00" y="233.80" width="1.00" height="2.00" fill="#4160ad" />
<rect x="359.00" y="233.80" width="1.00" height="2.00" fill="#4160ad" />
<rect x="367.70" y="233.80" width="1.00" height="2.00" fill="#4160ad" />
<rect x="376.30" y="233.80" width="1.00" height="2.00" fill="#4160ad" />
<rect x="378.80" y="233.80" width="1.00" height="2.00" fill="#4160ad" />
<rect x="383.80" y="233.80" width="1.00" height="2.00" fill="#4160ad" />
<rect x="388.80" y="233.80" width="1.00" height="2.00" fill="#4160ad" />
<rect x="395.00" y="233.80" width="1.00" height="2.00" fill="#4160ad" />
<rect x="403.60" y="233.80" width="1.00" height="2.00" fill="#4160ad" />
<rect x="405.60" y="233.80" width="1.00" height="2.00" fill="#4160ad" />
<rect x="411.10" y="233.80" width="1.00" height="2.00" fill="#4160ad" />
<rect x="412.30" y="233.80" width="1.00" height="2.00" fill="#4160ad" />
<rect x="423.50" y="233.80" width="1.00" height="2.00" fill="#4160ad" />
<rect x="426.00" y="233.80" width="1.00" height="2.00" fill="#4160ad" />
<rect x="432.20" y="233.80" width="1.00" height="2.00" fill="#4160ad" />
<rect x="435.90" y="233.80" width="1.00" height="2.00" fill="#4160ad" />
<rect x="442.10" y="233.80" width="1.00" height="2.00" fill="#4160ad" />
<rect x="459.50" y="233.80" width="1.00" height="2.00" fill="#4160ad" />
<rect x="459.80" y="233.80" width="1.00" height="2.00" fill="#4160ad" />
<rect x="470.80" y="233.80" width="1.00" height="2.00" fill="#4160ad" />
<rect x="481.10" y="233.80" width="1.00" height="2.00" fill="#4160ad" />
<rect x="490.70" y="233.80" width="1.00" height="2.00" fill="#4160ad" />
<rect x="494.10" y="233.80" width="1.00" height="2.00" fill="#4160ad" />
<rect x="497.50" y="233.80" width="1.00" height="2.00" fill="#4160ad" />
<rect x="519.80" y="233.80" width="1.00" height="2.00" fill="#4160ad" />
<rect x="525.70" y="233.80" width="1.00" height="2.00" fill="#4160ad" />
<rect x="529.10" y="233.80" width="1.00" height="2.00" fill="#4160ad" />
<rect x="533.50" y="233.80" width="1.00" height="2.00" fill="#4160ad" />
<rect x="539.40" y="233.80" width="1.00" height="2.00" fill="#4160ad" />
<rect x="542.80" y="233.80" width="1.00" height="2.00" fill="#4160ad" />
<rect x="561.00" y="233.80" width="1.00" height="2.00" fill="#4160ad" />
<rect x="576.40" y="233.80" width="1.00" height="2.00" fill="#4160ad" />
<rect x="596.30" y="233.80" width="1.00" height="2.00" fill="#4160ad" />
<rect x="599.80" y="233.80" width="1.00" height="2.00" fill="#4160ad" />
<rect x="603.90" y="233.80" width="1.00" height="2.00" fill="#4160ad" />
<rect x="608.00" y="233.80" width="1.00" height="2.00" fill="#4160ad" />
<rect x="624.50" y="233.80" width="1.00" height="2.00" fill="#4160ad" />
<rect x="629.60" y="233.80" width="1.00" height="2.00" fill="#4160ad" />
<rect x="636.50" y="233.80" width="1.00" height="2.00" fill="#4160ad" />
<rect x="181.00" y="231.30" width="1.00" height="4.50" fill="#4160ad" />
<rect x="351.50" y="230.80" width="1.00" height="5.00" fill="#4160ad" />
<rect x="245.70" y="222.80" width="0.80" height="13.00" fill="#4566b5" />
<rect x="245.70" y="229.00" width="2.00" height="6.80" fill="#3d5aa8" />
<rect x="496.00" y="201.90" width="0.80" height="33.90" fill="#4566b5" />
<rect x="495.60" y="224.50" width="1.60" height="11.30" fill="#3d5aa8" />
<rect x="634.00" y="208.70" width="0.80" height="27.10" fill="#4566b5" />
<text x="113.70" y="293.10" font-size="9" fill="#231f20" textLength="24.80" lengthAdjust="spacingAndGlyphs">chr22:</text>
<line x1="215.40" y1="283.00" x2="215.40" y2="293.80" stroke="#231f20" stroke-width="1" />
<line x1="331.40" y1="283.00" x2="331.40" y2="293.80" stroke="#231f20" stroke-width="1" />
<line x1="533.60" y1="283.00" x2="533.60" y2="293.80" stroke="#231f20" stroke-width="1" />
<line x1="650.30" y1="283.00" x2="650.30" y2="293.80" stroke="#231f20" stroke-width="1" />
<text x="164.90" y="292.90" font-size="10" fill="#333" textLength="48.50" lengthAdjust="spacingAndGlyphs">36,220,000</text>
<text x="280.90" y="292.90" font-size="10" fill="#333" textLength="48.50" lengthAdjust="spacingAndGlyphs">36,225,000</text>
<text x="483.10" y="292.90" font-size="10" fill="#333" textLength="48.50" lengthAdjust="spacingAndGlyphs">36,425,000</text>
<text x="599.80" y="292.90" font-size="10" fill="#333" textLength="48.50" lengthAdjust="spacingAndGlyphs">36,430,000</text>
<text x="106.10" y="303.60" font-size="9" fill="#3d4b8c" textLength="32.10" lengthAdjust="spacingAndGlyphs">RBFOX2</text>
<line x1="141.50" y1="300.10" x2="337.50" y2="300.10" stroke="#8d97c4" stroke-width="1.4" />
<path d="M144.60,297.60 L142.20,300.10 L144.60,302.60" fill="none" stroke="#707080" stroke-width="0.8"/>
<path d="M150.40,297.60 L148.00,300.10 L150.40,302.60" fill="none" stroke="#707080" stroke-width="0.8"/>
<path d="M156.20,297.60 L153.80,300.10 L156.20,302.60" fill="none" stroke="#707080" stroke-width="0.8"/>
<path d="M162.00,297.60 L159.60,300.10 L162.00,302.60" fill="none" stroke="#707080" stroke-width="0.8"/>
<path d="M167.80,297.60 L165.40,300.10 L167.80,302.60" fill="none" stroke="#707080" stroke-width="0.8"/>
<path d="M173.60,297.60 L171.20,300.10 L173.60,302.60" fill="none" stroke="#707080" stroke-width="0.8"/>
<path d="M179.40,297.60 L177.00,300.10 L179.40,302.60" fill="none" stroke="#707080" stroke-width="0.8"/>
<path d="M185.20,297.60 L182.80,300.10 L185.20,302.60" fill="none" stroke="#707080" stroke-width="0.8"/>
<path d="M191.00,297.60 L188.60,300.10 L191.00,302.60" fill="none" stroke="#707080" stroke-width="0.8"/>
<path d="M196.80,297.60 L194.40,300.10 L196.80,302.60" fill="none" stroke="#707080" stroke-width="0.8"/>
<path d="M202.60,297.60 L200.20,300.10 L202.60,302.60" fill="none" stroke="#707080" stroke-width="0.8"/>
<path d="M208.40,297.60 L206.00,300.10 L208.40,302.60" fill="none" stroke="#707080" stroke-width="0.8"/>
<path d="M214.20,297.60 L211.80,300.10 L214.20,302.60" fill="none" stroke="#707080" stroke-width="0.8"/>
<path d="M220.00,297.60 L217.60,300.10 L220.00,302.60" fill="none" stroke="#707080" stroke-width="0.8"/>
<path d="M225.80,297.60 L223.40,300.10 L225.80,302.60" fill="none" stroke="#707080" stroke-width="0.8"/>
<path d="M231.60,297.60 L229.20,300.10 L231.60,302.60" fill="none" stroke="#707080" stroke-width="0.8"/>
<path d="M237.40,297.60 L235.00,300.10 L237.40,302.60" fill="none" stroke="#707080" stroke-width="0.8"/>
<path d="M243.20,297.60 L240.80,300.10 L243.20,302.60" fill="none" stroke="#707080" stroke-width="0.8"/>
<path d="M249.00,297.60 L246.60,300.10 L249.00,302.60" fill="none" stroke="#707080" stroke-width="0.8"/>
<path d="M254.80,297.60 L252.40,300.10 L254.80,302.60" fill="none" stroke="#707080" stroke-width="0.8"/>
<path d="M260.60,297.60 L258.20,300.10 L260.60,302.60" fill="none" stroke="#707080" stroke-width="0.8"/>
<path d="M266.40,297.60 L264.00,300.10 L266.40,302.60" fill="none" stroke="#707080" stroke-width="0.8"/>
<path d="M272.20,297.60 L269.80,300.10 L272.20,302.60" fill="none" stroke="#707080" stroke-width="0.8"/>
<path d="M278.00,297.60 L275.60,300.10 L278.00,302.60" fill="none" stroke="#707080" stroke-width="0.8"/>
<path d="M283.80,297.60 L281.40,300.10 L283.80,302.60" fill="none" stroke="#707080" stroke-width="0.8"/>
<path d="M289.60,297.60 L287.20,300.10 L289.60,302.60" fill="none" stroke="#707080" stroke-width="0.8"/>
<path d="M295.40,297.60 L293.00,300.10 L295.40,302.60" fill="none" stroke="#707080" stroke-width="0.8"/>
<path d="M301.20,297.60 L298.80,300.10 L301.20,302.60" fill="none" stroke="#707080" stroke-width="0.8"/>
<path d="M307.00,297.60 L304.60,300.10 L307.00,302.60" fill="none" stroke="#707080" stroke-width="0.8"/>
<path d="M312.80,297.60 L310.40,300.10 L312.80,302.60" fill="none" stroke="#707080" stroke-width="0.8"/>
<path d="M318.60,297.60 L316.20,300.10 L318.60,302.60" fill="none" stroke="#707080" stroke-width="0.8"/>
<path d="M324.40,297.60 L322.00,300.10 L324.40,302.60" fill="none" stroke="#707080" stroke-width="0.8"/>
<path d="M330.20,297.60 L327.80,300.10 L330.20,302.60" fill="none" stroke="#707080" stroke-width="0.8"/>
<path d="M336.00,297.60 L333.60,300.10 L336.00,302.60" fill="none" stroke="#707080" stroke-width="0.8"/>
<line x1="436.40" y1="300.10" x2="517.00" y2="300.10" stroke="#8d97c4" stroke-width="1.4" />
<path d="M439.60,297.60 L437.20,300.10 L439.60,302.60" fill="none" stroke="#707080" stroke-width="0.8"/>
<path d="M445.35,297.60 L442.95,300.10 L445.35,302.60" fill="none" stroke="#707080" stroke-width="0.8"/>
<path d="M451.10,297.60 L448.70,300.10 L451.10,302.60" fill="none" stroke="#707080" stroke-width="0.8"/>
<path d="M456.85,297.60 L454.45,300.10 L456.85,302.60" fill="none" stroke="#707080" stroke-width="0.8"/>
<path d="M462.60,297.60 L460.20,300.10 L462.60,302.60" fill="none" stroke="#707080" stroke-width="0.8"/>
<path d="M468.35,297.60 L465.95,300.10 L468.35,302.60" fill="none" stroke="#707080" stroke-width="0.8"/>
<path d="M474.10,297.60 L471.70,300.10 L474.10,302.60" fill="none" stroke="#707080" stroke-width="0.8"/>
<path d="M479.85,297.60 L477.45,300.10 L479.85,302.60" fill="none" stroke="#707080" stroke-width="0.8"/>
<path d="M485.60,297.60 L483.20,300.10 L485.60,302.60" fill="none" stroke="#707080" stroke-width="0.8"/>
<path d="M491.35,297.60 L488.95,300.10 L491.35,302.60" fill="none" stroke="#707080" stroke-width="0.8"/>
<path d="M497.10,297.60 L494.70,300.10 L497.10,302.60" fill="none" stroke="#707080" stroke-width="0.8"/>
<path d="M502.85,297.60 L500.45,300.10 L502.85,302.60" fill="none" stroke="#707080" stroke-width="0.8"/>
<path d="M508.60,297.60 L506.20,300.10 L508.60,302.60" fill="none" stroke="#707080" stroke-width="0.8"/>
<path d="M514.35,297.60 L511.95,300.10 L514.35,302.60" fill="none" stroke="#707080" stroke-width="0.8"/>
<rect x="516.70" y="294.10" width="4.40" height="11.10" fill="#1f2b6e" />
<text x="59.90" y="324.10" font-size="9" fill="#3e6cb6" textLength="51.20" lengthAdjust="spacingAndGlyphs">Hepatocytes</text>
<text x="59.90" y="334.40" font-size="9" fill="#3e6cb6" textLength="23.10" lengthAdjust="spacingAndGlyphs">CAGE</text>
<text x="121.00" y="316.40" font-size="9.6" fill="#3e6cb6" textLength="9.30" lengthAdjust="spacingAndGlyphs">10</text>
<line x1="135.00" y1="313.00" x2="139.00" y2="313.00" stroke="#9fb2d8" stroke-width="0.9" />
<text x="130.90" y="345.80" font-size="9.6" fill="#3e6cb6" text-anchor="end">1</text>
<line x1="135.00" y1="342.40" x2="139.00" y2="342.40" stroke="#9fb2d8" stroke-width="0.9" />
<rect x="168.20" y="341.10" width="1.00" height="2.00" fill="#4160ad" />
<rect x="211.90" y="341.10" width="1.00" height="2.00" fill="#4160ad" />
<rect x="251.60" y="341.10" width="1.00" height="2.00" fill="#4160ad" />
<rect x="316.10" y="341.10" width="1.00" height="2.00" fill="#4160ad" />
<rect x="451.80" y="341.10" width="1.00" height="2.00" fill="#4160ad" />
<rect x="453.70" y="341.10" width="1.00" height="2.00" fill="#4160ad" />
<rect x="463.80" y="341.10" width="1.00" height="2.00" fill="#4160ad" />
<rect x="503.10" y="341.10" width="1.00" height="2.00" fill="#4160ad" />
<rect x="517.30" y="341.10" width="1.00" height="2.00" fill="#4160ad" />
<rect x="558.50" y="341.10" width="1.00" height="2.00" fill="#4160ad" />
<rect x="225.50" y="325.40" width="1.00" height="17.70" fill="#4565b0" />
<rect x="521.80" y="338.10" width="1.00" height="5.00" fill="#4160ad" />
<rect x="523.00" y="338.10" width="1.00" height="5.00" fill="#4160ad" />
<rect x="525.90" y="338.10" width="1.00" height="5.00" fill="#4160ad" />
<rect x="527.20" y="340.10" width="1.00" height="3.00" fill="#4160ad" />
<rect x="529.40" y="322.20" width="1.00" height="20.90" fill="#4565b0" />
<rect x="530.20" y="330.20" width="0.90" height="12.90" fill="#4565b0" />
<line x1="59.20" y1="343.60" x2="59.20" y2="492.40" stroke="#333" stroke-width="1.6" />
<text transform="translate(43,452.3) rotate(-90)" font-size="9" fill="#333" textLength="71.2" lengthAdjust="spacingAndGlyphs">Human adult liver</text>
<text transform="translate(51.9,435.6) rotate(-90)" font-size="9" fill="#333" textLength="38.4" lengthAdjust="spacingAndGlyphs">ChIP–seq</text>
<text x="72.80" y="365.00" font-size="9" fill="#d0177b" textLength="26.00" lengthAdjust="spacingAndGlyphs">FOXA1</text>
<text x="72.80" y="402.30" font-size="9" fill="#d0177b" textLength="26.00" lengthAdjust="spacingAndGlyphs">FOXA2</text>
<text x="72.80" y="440.30" font-size="9" fill="#1d7d38" textLength="35.50" lengthAdjust="spacingAndGlyphs">H3K4me3</text>
<text x="72.80" y="478.00" font-size="9" fill="#25367f" textLength="32.80" lengthAdjust="spacingAndGlyphs">H3K27ac</text>
<text x="115.00" y="353.70" font-size="9.6" fill="#d0177b" textLength="15.30" lengthAdjust="spacingAndGlyphs">100</text>
<line x1="135.00" y1="350.30" x2="139.20" y2="350.30" stroke="#e58ab8" stroke-width="0.9" />
<text x="130.80" y="382.60" font-size="9.6" fill="#d0177b" text-anchor="end">0</text>
<line x1="135.00" y1="379.20" x2="139.20" y2="379.20" stroke="#e58ab8" stroke-width="0.9" />
<text x="115.00" y="391.00" font-size="9.6" fill="#d0177b" textLength="15.30" lengthAdjust="spacingAndGlyphs">100</text>
<line x1="135.00" y1="387.60" x2="139.20" y2="387.60" stroke="#e58ab8" stroke-width="0.9" />
<text x="130.80" y="420.30" font-size="9.6" fill="#d0177b" text-anchor="end">0</text>
<line x1="135.00" y1="416.90" x2="139.20" y2="416.90" stroke="#e58ab8" stroke-width="0.9" />
<text x="119.90" y="428.60" font-size="9.6" fill="#1d7d38" textLength="10.40" lengthAdjust="spacingAndGlyphs">80</text>
<line x1="135.00" y1="425.20" x2="139.20" y2="425.20" stroke="#8fc49e" stroke-width="0.9" />
<text x="130.80" y="457.60" font-size="9.6" fill="#1d7d38" text-anchor="end">0</text>
<line x1="135.00" y1="454.20" x2="139.20" y2="454.20" stroke="#8fc49e" stroke-width="0.9" />
<text x="119.90" y="465.70" font-size="9.6" fill="#25367f" textLength="10.40" lengthAdjust="spacingAndGlyphs">60</text>
<line x1="135.00" y1="462.30" x2="139.20" y2="462.30" stroke="#9aa2c8" stroke-width="0.9" />
<text x="130.80" y="495.00" font-size="9.6" fill="#25367f" text-anchor="end">0</text>
<line x1="135.00" y1="491.60" x2="139.20" y2="491.60" stroke="#9aa2c8" stroke-width="0.9" />
<line x1="141.10" y1="379.30" x2="338.90" y2="379.30" stroke="#d0177b" stroke-width="1.1" />
<line x1="436.00" y1="379.30" x2="656.70" y2="379.30" stroke="#d0177b" stroke-width="1.1" />
<path d="M225.20,379.30 Q227.41,373.42 228.60,362.50 Q229.79,373.42 232.00,379.30 Z" fill="#d0177b"/>
<path d="M527.90,379.30 Q530.05,372.58 531.20,360.10 Q532.36,372.58 534.50,379.30 Z" fill="#d0177b"/>
<path d="M565.60,379.30 Q567.94,374.23 569.20,364.80 Q570.46,374.23 572.80,379.30 Z" fill="#d0177b"/>
<path d="M568,379.3 L572,376 L575.5,379.3 Z" fill="#d0177b"/>
<ellipse cx="145.7" cy="378.8" rx="1.8" ry="0.9" fill="#d0177b"/>
<ellipse cx="167.2" cy="378.8" rx="1.8" ry="0.9" fill="#d0177b"/>
<ellipse cx="219.3" cy="378.8" rx="1.8" ry="0.9" fill="#d0177b"/>
<ellipse cx="447.7" cy="378.8" rx="1.8" ry="0.9" fill="#d0177b"/>
<ellipse cx="451.1" cy="378.8" rx="1.8" ry="0.9" fill="#d0177b"/>
<ellipse cx="483.5" cy="378.8" rx="1.8" ry="0.9" fill="#d0177b"/>
<ellipse cx="486.5" cy="378.8" rx="1.8" ry="0.9" fill="#d0177b"/>
<ellipse cx="497" cy="378.8" rx="1.8" ry="0.9" fill="#d0177b"/>
<ellipse cx="509.4" cy="378.8" rx="1.8" ry="0.9" fill="#d0177b"/>
<line x1="141.10" y1="416.90" x2="338.90" y2="416.90" stroke="#d0177b" stroke-width="1.1" />
<line x1="436.00" y1="417.20" x2="656.70" y2="417.20" stroke="#d0177b" stroke-width="1.1" />
<path d="M224.70,416.90 Q227.17,404.79 228.50,382.30 Q229.83,404.79 232.30,416.90 Z" fill="#d0177b"/>
<path d="M527.90,417.20 Q530.05,409.92 531.20,396.40 Q532.36,409.92 534.50,417.20 Z" fill="#d0177b"/>
<path d="M564.90,417.20 Q567.70,404.53 569.20,381.00 Q570.71,404.53 573.50,417.20 Z" fill="#d0177b"/>
<ellipse cx="197.8" cy="416.4" rx="1.8" ry="0.9" fill="#d0177b"/>
<ellipse cx="474.4" cy="416.4" rx="1.8" ry="0.9" fill="#d0177b"/>
<line x1="141.10" y1="454.50" x2="338.90" y2="454.50" stroke="#1d7d38" stroke-width="1.2" />
<path d="M141.10,454.30 L141.06,454.15 L141.50,453.71 L142.82,453.10 L144.57,452.22 L146.32,452.84 L148.07,453.10 L150.26,453.45 L152.01,453.98 L156.39,453.98 L158.14,453.10 L160.77,452.84 L162.96,453.27 L164.27,453.71 L166.02,453.10 L168.21,452.57 L170.40,451.35 L172.59,449.33 L173.90,448.90 L175.65,449.95 L177.40,451.35 L179.16,452.84 L180.47,453.71 L181.78,452.84 L183.53,452.22 L185.29,451.52 L187.04,452.57 L188.79,453.10 L192.29,453.10 L194.92,452.57 L196.00,452.22 L197.31,451.70 L199.06,451.09 L200.82,451.96 L203.01,453.27 L205.19,453.45 L206.95,452.84 L209.57,452.40 L211.32,450.21 L213.08,449.77 L214.83,449.07 L216.14,451.09 L217.45,451.35 L219.20,449.77 L220.96,447.15 L222.71,444.96 L224.46,445.39 L226.21,445.57 L227.96,447.15 L229.71,448.90 L231.46,450.21 L232.78,451.09 L234.97,451.70 L236.72,452.84 L241.53,453.10 L243.72,453.71 L245.47,452.84 L246.79,451.96 L248.54,452.22 L249.85,452.40 L251.17,453.45 L254.23,453.45 L254.88,453.10 L257.50,452.84 L259.25,453.27 L261.88,452.92 L263.63,453.45 L270.64,453.45 L271.08,454.15 L281.58,454.15 L282.02,453.45 L291.65,453.45 L292.09,454.15 L293.84,454.15 L294.11,453.45 L298.66,453.45 L299.10,454.15 L301.72,454.15 L301.99,453.45 L306.54,453.45 L306.98,454.15 L309.17,454.15 L309.43,453.45 L313.98,453.45 L314.45,454.17 L336.47,454.17 L337.12,453.18 L338.63,453.18 L338.90,454.17 L338.90,454.30 Z" fill="#1d7d38"/>
<line x1="436.00" y1="454.50" x2="656.90" y2="454.50" stroke="#1d7d38" stroke-width="1.2" />
<path d="M436.00,454.30 L436.00,454.15 L450.45,454.15 L450.89,453.27 L458.77,453.27 L459.20,454.15 L466.65,454.15 L467.09,453.45 L474.53,453.45 L476.28,452.22 L477.59,453.10 L479.35,453.71 L481.53,452.40 L483.72,450.21 L485.47,447.58 L486.79,446.97 L488.54,447.85 L489.85,449.33 L491.17,450.65 L492.48,448.90 L493.79,447.58 L494.00,447.85 L495.31,447.15 L497.06,444.96 L498.82,444.08 L500.57,444.08 L502.76,441.89 L504.95,436.20 L506.26,434.89 L508.45,434.01 L510.20,428.32 L511.95,424.38 L513.44,421.31 L514.58,422.63 L515.89,428.32 L517.64,434.01 L518.96,439.26 L520.27,441.02 L522.02,443.20 L523.77,448.02 L525.52,452.84 L526.84,454.15 L528.15,453.71 L529.90,451.70 L531.65,451.09 L533.84,451.52 L536.03,452.84 L537.78,451.35 L539.97,450.47 L541.72,448.90 L543.04,449.33 L544.79,448.90 L546.54,448.90 L549.17,449.33 L551.36,451.09 L552.00,451.09 L553.75,451.96 L555.50,451.52 L557.25,450.82 L559.01,451.70 L560.76,452.84 L562.51,453.98 L564.26,453.27 L566.45,451.96 L569.08,451.09 L572.14,450.65 L574.33,449.95 L576.52,449.77 L577.83,448.46 L580.02,447.85 L582.21,448.20 L583.52,450.65 L585.27,451.52 L587.90,452.22 L590.09,452.84 L592.28,452.57 L594.91,453.10 L596.66,453.45 L599.29,453.45 L601.91,454.15 L603.23,453.63 L605.42,453.27 L608.04,453.71 L608.32,454.15 L611.82,454.15 L612.08,453.45 L616.64,453.45 L617.08,454.15 L620.14,454.15 L620.40,453.45 L626.27,453.27 L628.02,452.84 L630.21,453.27 L630.65,454.15 L656.92,454.15 L656.90,454.30 Z" fill="#1d7d38"/>
<line x1="141.10" y1="491.90" x2="338.90" y2="491.90" stroke="#a0a8cc" stroke-width="1.2" />
<path d="M141.10,491.70 L141.06,491.70 L141.24,489.09 L143.25,488.21 L145.44,487.33 L147.19,488.82 L149.38,489.96 L151.57,491.27 L152.45,491.70 L159.45,491.70 L160.33,491.10 L162.52,490.84 L163.83,487.77 L165.58,484.27 L167.77,481.82 L169.09,481.20 L170.84,482.08 L173.03,483.39 L174.34,486.90 L175.65,488.21 L177.40,488.21 L179.16,487.33 L180.91,487.77 L182.66,488.21 L184.41,488.47 L186.16,489.35 L188.79,489.35 L190.54,488.65 L191.85,488.21 L193.60,489.09 L195.36,487.77 L197.11,487.07 L199.50,487.07 L201.25,489.96 L203.01,490.57 L204.76,491.45 L205.63,491.70 L210.01,491.70 L211.76,490.84 L213.51,488.21 L215.26,486.46 L217.45,484.27 L219.20,480.33 L221.83,477.09 L223.58,479.45 L225.77,481.64 L227.52,485.58 L229.71,486.90 L231.03,485.15 L232.78,483.39 L234.53,484.71 L236.72,486.72 L238.91,485.15 L241.53,485.32 L243.72,485.15 L245.91,482.96 L247.66,483.83 L249.42,487.33 L250.73,489.09 L254.23,489.09 L255.75,489.52 L257.50,490.84 L260.13,491.70 L261.44,491.10 L263.19,490.22 L264.95,491.10 L267.57,491.27 L268.45,491.70 L289.03,491.70 L289.90,491.10 L293.40,490.57 L295.59,489.96 L297.78,488.82 L299.53,489.35 L301.72,490.84 L303.47,490.22 L306.10,488.65 L308.29,489.35 L310.92,490.22 L311.83,490.52 L313.47,491.18 L314.78,489.54 L316.75,488.22 L318.40,488.55 L320.37,489.54 L322.34,490.19 L323.65,489.41 L324.97,490.19 L326.94,490.85 L328.91,491.38 L329.24,491.70 L334.82,491.70 L335.15,491.18 L338.63,491.18 L338.90,491.70 L338.90,491.70 Z" fill="#25367f"/>
<line x1="436.00" y1="491.90" x2="656.90" y2="491.90" stroke="#a0a8cc" stroke-width="1.2" />
<path d="M436.00,491.70 L436.00,490.22 L436.88,490.84 L437.75,491.70 L444.76,491.70 L445.63,490.57 L448.26,489.70 L450.01,489.26 L451.76,489.52 L453.51,490.22 L456.14,490.57 L457.02,490.22 L458.77,490.05 L461.39,489.26 L463.15,489.96 L465.77,491.27 L466.65,491.70 L470.15,491.70 L471.03,491.10 L472.78,490.84 L474.53,488.21 L476.28,486.20 L478.91,485.85 L479.78,485.15 L481.53,482.96 L483.29,480.94 L484.60,481.47 L485.91,480.94 L487.23,481.20 L488.54,482.96 L490.29,485.15 L491.60,486.72 L492.92,486.20 L494.23,485.85 L495.75,486.02 L497.50,487.77 L499.25,489.96 L500.13,490.40 L501.01,488.65 L502.76,484.27 L504.95,479.02 L507.13,475.51 L508.89,471.13 L509.76,468.07 L511.51,467.19 L513.26,465.44 L514.32,464.83 L515.89,466.06 L517.20,466.32 L518.08,469.38 L519.39,474.64 L520.71,479.02 L522.02,484.27 L523.33,488.65 L524.65,490.57 L525.96,490.22 L527.27,487.77 L528.59,484.71 L529.90,483.39 L531.22,484.27 L532.97,486.90 L534.72,488.65 L536.03,488.82 L537.78,487.33 L539.10,485.58 L540.41,479.89 L541.72,475.51 L543.47,472.01 L544.79,473.32 L546.54,476.39 L548.29,478.58 L550.04,478.32 L551.79,477.70 L552.00,475.95 L553.31,475.51 L555.50,477.70 L557.25,480.77 L559.01,484.27 L560.32,486.02 L562.07,485.58 L563.82,483.83 L565.57,482.08 L567.32,482.96 L569.08,484.71 L570.83,484.71 L572.14,481.20 L573.89,476.39 L575.64,468.51 L577.39,462.82 L578.27,462.38 L579.58,465.88 L580.90,472.89 L582.21,481.64 L583.09,487.77 L583.96,489.09 L585.27,487.33 L587.03,485.58 L588.78,485.32 L590.53,486.72 L592.28,487.33 L594.03,487.33 L595.78,488.21 L596.66,488.65 L598.41,487.33 L600.60,486.20 L602.19,486.72 L603.94,488.21 L605.25,489.09 L606.57,488.21 L608.32,486.46 L610.07,486.90 L611.82,487.77 L613.13,489.09 L615.32,489.35 L617.51,489.09 L618.83,485.85 L620.58,484.27 L621.89,483.83 L623.20,484.71 L625.39,486.90 L627.58,489.09 L629.33,489.35 L630.65,489.96 L632.40,490.57 L633.71,491.70 L649.91,491.70 L650.09,490.84 L656.48,490.84 L656.74,491.70 L656.90,491.70 Z" fill="#25367f"/>
<text x="0.10" y="518.50" font-size="13.2" fill="#231f20" textLength="8.60" lengthAdjust="spacingAndGlyphs" font-weight="bold" stroke="#231f20" stroke-width="0.3">b</text>
<line x1="78.20" y1="548.80" x2="78.20" y2="654.40" stroke="#8c8c8c" stroke-width="0.9" />
<line x1="78.20" y1="654.40" x2="147.30" y2="654.40" stroke="#8c8c8c" stroke-width="0.9" />
<line x1="75.00" y1="550.30" x2="78.20" y2="550.30" stroke="#8c8c8c" stroke-width="0.9" />
<text x="70.60" y="553.20" font-size="8.2" fill="#3a3a3a" text-anchor="end">2.5</text>
<line x1="75.00" y1="571.10" x2="78.20" y2="571.10" stroke="#8c8c8c" stroke-width="0.9" />
<text x="70.60" y="574.00" font-size="8.2" fill="#3a3a3a" text-anchor="end">2.0</text>
<line x1="75.00" y1="591.90" x2="78.20" y2="591.90" stroke="#8c8c8c" stroke-width="0.9" />
<text x="70.60" y="594.80" font-size="8.2" fill="#3a3a3a" text-anchor="end">1.5</text>
<line x1="75.00" y1="612.70" x2="78.20" y2="612.70" stroke="#8c8c8c" stroke-width="0.9" />
<text x="70.60" y="615.60" font-size="8.2" fill="#3a3a3a" text-anchor="end">1.0</text>
<line x1="75.00" y1="633.60" x2="78.20" y2="633.60" stroke="#8c8c8c" stroke-width="0.9" />
<text x="70.60" y="636.50" font-size="8.2" fill="#3a3a3a" text-anchor="end">0.5</text>
<line x1="75.00" y1="654.40" x2="78.20" y2="654.40" stroke="#8c8c8c" stroke-width="0.9" />
<text x="70.60" y="657.30" font-size="8.2" fill="#3a3a3a" text-anchor="end">0</text>
<text x="91.00" y="529.70" font-size="9.2" fill="#333" textLength="22.20" lengthAdjust="spacingAndGlyphs" font-style="italic">Foxa1</text>
<text x="92.00" y="551.10" font-size="9.2" fill="#333" textLength="44.20" lengthAdjust="spacingAndGlyphs"><tspan font-style="italic">P</tspan> = 0.0033</text>
<path d="M98.60,559.90 L98.60,555.20 L130.30,555.20 L130.30,559.90" fill="none" stroke="#231f20" stroke-width="1.5"/>
<rect x="89.00" y="608.20" width="19.70" height="46.20" fill="#231f20" />
<rect x="89.60" y="608.80" width="18.50" height="45.60" fill="none" stroke="#231f20" stroke-width="1.2"/>
<line x1="98.85" y1="608.20" x2="98.85" y2="597.40" stroke="#231f20" stroke-width="1.2" />
<line x1="93.65" y1="597.40" x2="104.05" y2="597.40" stroke="#231f20" stroke-width="1.2" />
<circle cx="98.90" cy="573.70" r="1.9" fill="none" stroke="#8a8a8a" stroke-width="0.9"/>
<circle cx="98.90" cy="594.00" r="1.9" fill="none" stroke="#8a8a8a" stroke-width="0.9"/>
<circle cx="95.40" cy="620.20" r="1.9" fill="none" stroke="#8a8a8a" stroke-width="0.9"/>
<circle cx="102.10" cy="621.80" r="1.9" fill="none" stroke="#8a8a8a" stroke-width="0.9"/>
<circle cx="98.90" cy="629.90" r="1.9" fill="none" stroke="#8a8a8a" stroke-width="0.9"/>
<rect x="119.00" y="646.20" width="19.20" height="8.20" fill="#2c5cb0" />
<rect x="119.60" y="646.80" width="18.00" height="7.60" fill="none" stroke="#231f20" stroke-width="1.2"/>
<line x1="128.60" y1="646.20" x2="128.60" y2="644.60" stroke="#231f20" stroke-width="1.2" />
<line x1="123.40" y1="644.60" x2="133.80" y2="644.60" stroke="#231f20" stroke-width="1.2" />
<circle cx="120.20" cy="644.00" r="1.9" fill="none" stroke="#8a8a8a" stroke-width="0.9"/>
<circle cx="125.90" cy="641.40" r="1.9" fill="none" stroke="#8a8a8a" stroke-width="0.9"/>
<circle cx="120.70" cy="649.00" r="1.9" fill="none" stroke="#8a8a8a" stroke-width="0.9"/>
<circle cx="131.20" cy="649.00" r="1.9" fill="none" stroke="#8a8a8a" stroke-width="0.9"/>
<circle cx="136.40" cy="647.20" r="1.9" fill="none" stroke="#8a8a8a" stroke-width="0.9"/>
<circle cx="125.40" cy="645.60" r="1.9" fill="none" stroke="#8a8a8a" stroke-width="0.9"/>
<text transform="translate(52.40,648.40) rotate(-90)" font-size="9" fill="#333" textLength="93.90" lengthAdjust="spacingAndGlyphs">Normalized expression</text>
<text x="91.00" y="665.50" font-size="9" fill="#333" textLength="15.20" lengthAdjust="spacingAndGlyphs">shC</text>
<text x="115.80" y="665.50" font-size="9" fill="#333" textLength="26.20" lengthAdjust="spacingAndGlyphs">shF1/2</text>
<line x1="203.20" y1="549.00" x2="203.20" y2="654.50" stroke="#8c8c8c" stroke-width="0.9" />
<line x1="203.20" y1="654.50" x2="273.50" y2="654.50" stroke="#8c8c8c" stroke-width="0.9" />
<line x1="200.00" y1="549.20" x2="203.20" y2="549.20" stroke="#8c8c8c" stroke-width="0.9" />
<text x="195.60" y="552.10" font-size="8.2" fill="#3a3a3a" text-anchor="end">2.0</text>
<line x1="200.00" y1="575.50" x2="203.20" y2="575.50" stroke="#8c8c8c" stroke-width="0.9" />
<text x="195.60" y="578.40" font-size="8.2" fill="#3a3a3a" text-anchor="end">1.5</text>
<line x1="200.00" y1="601.90" x2="203.20" y2="601.90" stroke="#8c8c8c" stroke-width="0.9" />
<text x="195.60" y="604.80" font-size="8.2" fill="#3a3a3a" text-anchor="end">1.0</text>
<line x1="200.00" y1="628.20" x2="203.20" y2="628.20" stroke="#8c8c8c" stroke-width="0.9" />
<text x="195.60" y="631.10" font-size="8.2" fill="#3a3a3a" text-anchor="end">0.5</text>
<line x1="200.00" y1="654.50" x2="203.20" y2="654.50" stroke="#8c8c8c" stroke-width="0.9" />
<text x="195.60" y="657.40" font-size="8.2" fill="#3a3a3a" text-anchor="end">0</text>
<text x="213.40" y="530.70" font-size="9.2" fill="#333" textLength="23.70" lengthAdjust="spacingAndGlyphs" font-style="italic">Foxa2</text>
<text x="216.90" y="542.70" font-size="9.2" fill="#333" textLength="44.40" lengthAdjust="spacingAndGlyphs"><tspan font-style="italic">P</tspan> = 0.0026</text>
<path d="M223.40,552.00 L223.40,546.80 L254.60,546.80 L254.60,552.00" fill="none" stroke="#231f20" stroke-width="1.5"/>
<rect x="214.00" y="598.40" width="19.20" height="56.10" fill="#231f20" />
<rect x="214.60" y="599.00" width="18.00" height="55.50" fill="none" stroke="#231f20" stroke-width="1.2"/>
<line x1="223.60" y1="598.40" x2="223.60" y2="587.40" stroke="#231f20" stroke-width="1.2" />
<line x1="218.40" y1="587.40" x2="228.80" y2="587.40" stroke="#231f20" stroke-width="1.2" />
<circle cx="224.00" cy="554.80" r="1.9" fill="none" stroke="#8a8a8a" stroke-width="0.9"/>
<circle cx="220.40" cy="605.90" r="1.9" fill="none" stroke="#8a8a8a" stroke-width="0.9"/>
<circle cx="224.00" cy="608.90" r="1.9" fill="none" stroke="#8a8a8a" stroke-width="0.9"/>
<circle cx="226.90" cy="604.20" r="1.9" fill="none" stroke="#8a8a8a" stroke-width="0.9"/>
<circle cx="224.00" cy="618.50" r="1.9" fill="none" stroke="#8a8a8a" stroke-width="0.9"/>
<rect x="244.10" y="641.30" width="19.30" height="13.20" fill="#2c5cb0" />
<rect x="244.70" y="641.90" width="18.10" height="12.60" fill="none" stroke="#231f20" stroke-width="1.2"/>
<line x1="253.75" y1="641.30" x2="253.75" y2="638.70" stroke="#231f20" stroke-width="1.2" />
<line x1="248.55" y1="638.70" x2="258.95" y2="638.70" stroke="#231f20" stroke-width="1.2" />
<circle cx="253.70" cy="631.20" r="1.9" fill="none" stroke="#8a8a8a" stroke-width="0.9"/>
<circle cx="247.10" cy="644.80" r="1.9" fill="none" stroke="#8a8a8a" stroke-width="0.9"/>
<circle cx="253.70" cy="643.40" r="1.9" fill="none" stroke="#8a8a8a" stroke-width="0.9"/>
<circle cx="259.90" cy="644.00" r="1.9" fill="none" stroke="#8a8a8a" stroke-width="0.9"/>
<circle cx="250.70" cy="640.40" r="1.9" fill="none" stroke="#8a8a8a" stroke-width="0.9"/>
<text transform="translate(177.50,648.40) rotate(-90)" font-size="9" fill="#333" textLength="93.90" lengthAdjust="spacingAndGlyphs">Normalized expression</text>
<text x="215.70" y="665.50" font-size="9" fill="#333" textLength="15.80" lengthAdjust="spacingAndGlyphs">shC</text>
<text x="241.50" y="665.50" font-size="9" fill="#333" textLength="25.00" lengthAdjust="spacingAndGlyphs">shF1/2</text>
<line x1="329.10" y1="549.00" x2="329.10" y2="654.50" stroke="#8c8c8c" stroke-width="0.9" />
<line x1="329.10" y1="654.50" x2="399.50" y2="654.50" stroke="#8c8c8c" stroke-width="0.9" />
<line x1="325.90" y1="549.50" x2="329.10" y2="549.50" stroke="#8c8c8c" stroke-width="0.9" />
<text x="321.50" y="552.40" font-size="8.2" fill="#3a3a3a" text-anchor="end">2.0</text>
<line x1="325.90" y1="575.80" x2="329.10" y2="575.80" stroke="#8c8c8c" stroke-width="0.9" />
<text x="321.50" y="578.70" font-size="8.2" fill="#3a3a3a" text-anchor="end">1.5</text>
<line x1="325.90" y1="602.00" x2="329.10" y2="602.00" stroke="#8c8c8c" stroke-width="0.9" />
<text x="321.50" y="604.90" font-size="8.2" fill="#3a3a3a" text-anchor="end">1.0</text>
<line x1="325.90" y1="628.20" x2="329.10" y2="628.20" stroke="#8c8c8c" stroke-width="0.9" />
<text x="321.50" y="631.10" font-size="8.2" fill="#3a3a3a" text-anchor="end">0.5</text>
<line x1="325.90" y1="654.50" x2="329.10" y2="654.50" stroke="#8c8c8c" stroke-width="0.9" />
<text x="321.50" y="657.40" font-size="8.2" fill="#3a3a3a" text-anchor="end">0</text>
<text x="341.00" y="531.60" font-size="9.2" fill="#333" textLength="27.70" lengthAdjust="spacingAndGlyphs" font-style="italic">Rbfox2</text>
<text x="342.70" y="545.60" font-size="9.2" fill="#333" textLength="44.40" lengthAdjust="spacingAndGlyphs"><tspan font-style="italic">P</tspan> = 0.0066</text>
<path d="M349.20,554.60 L349.20,549.50 L380.70,549.50 L380.70,554.60" fill="none" stroke="#231f20" stroke-width="1.5"/>
<rect x="340.30" y="598.00" width="19.30" height="56.50" fill="#231f20" />
<rect x="340.90" y="598.60" width="18.10" height="55.90" fill="none" stroke="#231f20" stroke-width="1.2"/>
<line x1="349.95" y1="598.00" x2="349.95" y2="586.70" stroke="#231f20" stroke-width="1.2" />
<line x1="344.75" y1="586.70" x2="355.15" y2="586.70" stroke="#231f20" stroke-width="1.2" />
<circle cx="349.90" cy="558.30" r="1.9" fill="none" stroke="#8a8a8a" stroke-width="0.9"/>
<circle cx="346.40" cy="611.50" r="1.9" fill="none" stroke="#8a8a8a" stroke-width="0.9"/>
<circle cx="352.70" cy="612.90" r="1.9" fill="none" stroke="#8a8a8a" stroke-width="0.9"/>
<circle cx="349.90" cy="620.00" r="1.9" fill="none" stroke="#8a8a8a" stroke-width="0.9"/>
<circle cx="349.90" cy="586.70" r="1.9" fill="none" stroke="#8a8a8a" stroke-width="0.9"/>
<rect x="370.20" y="635.20" width="19.30" height="19.30" fill="#2c5cb0" />
<rect x="370.80" y="635.80" width="18.10" height="18.70" fill="none" stroke="#231f20" stroke-width="1.2"/>
<line x1="379.85" y1="635.20" x2="379.85" y2="632.60" stroke="#231f20" stroke-width="1.2" />
<line x1="374.65" y1="632.60" x2="385.05" y2="632.60" stroke="#231f20" stroke-width="1.2" />
<circle cx="373.70" cy="632.60" r="1.9" fill="none" stroke="#8a8a8a" stroke-width="0.9"/>
<circle cx="379.30" cy="631.70" r="1.9" fill="none" stroke="#8a8a8a" stroke-width="0.9"/>
<circle cx="386.00" cy="629.90" r="1.9" fill="none" stroke="#8a8a8a" stroke-width="0.9"/>
<circle cx="376.70" cy="639.20" r="1.9" fill="none" stroke="#8a8a8a" stroke-width="0.9"/>
<circle cx="382.90" cy="638.20" r="1.9" fill="none" stroke="#8a8a8a" stroke-width="0.9"/>
<text transform="translate(304.00,648.40) rotate(-90)" font-size="9" fill="#333" textLength="93.90" lengthAdjust="spacingAndGlyphs">Normalized expression</text>
<text x="343.40" y="665.50" font-size="9" fill="#333" textLength="15.80" lengthAdjust="spacingAndGlyphs">shC</text>
<text x="368.80" y="665.50" font-size="9" fill="#333" textLength="25.40" lengthAdjust="spacingAndGlyphs">shF1/2</text>
<text x="431.30" y="518.60" font-size="12.6" fill="#231f20" textLength="8.10" lengthAdjust="spacingAndGlyphs" font-weight="bold" stroke="#231f20" stroke-width="0.3">c</text>
<rect x="529.70" y="516.00" width="7.30" height="7.20" fill="#231f20" />
<text x="541.70" y="522.90" font-size="9" fill="#333" textLength="43.30" lengthAdjust="spacingAndGlyphs">Ad-control</text>
<circle cx="605.5" cy="519.6" r="3.6" fill="#e8262a"/>
<text x="613.90" y="522.90" font-size="9" fill="#333" textLength="40.30" lengthAdjust="spacingAndGlyphs">Ad-FOXA1</text>
<line x1="524.50" y1="548.10" x2="524.50" y2="650.00" stroke="#8c8c8c" stroke-width="0.9" />
<line x1="524.50" y1="650.00" x2="676.00" y2="650.00" stroke="#8c8c8c" stroke-width="0.9" />
<line x1="520.50" y1="548.90" x2="524.50" y2="548.90" stroke="#8c8c8c" stroke-width="0.9" />
<text x="499.50" y="551.80" font-size="8.8" fill="#3a3a3a" textLength="16.50" lengthAdjust="spacingAndGlyphs">600</text>
<line x1="520.50" y1="582.70" x2="524.50" y2="582.70" stroke="#8c8c8c" stroke-width="0.9" />
<text x="499.50" y="585.60" font-size="8.8" fill="#3a3a3a" textLength="16.50" lengthAdjust="spacingAndGlyphs">400</text>
<line x1="520.50" y1="616.50" x2="524.50" y2="616.50" stroke="#8c8c8c" stroke-width="0.9" />
<text x="499.50" y="619.40" font-size="8.8" fill="#3a3a3a" textLength="16.50" lengthAdjust="spacingAndGlyphs">200</text>
<line x1="520.50" y1="650.30" x2="524.50" y2="650.30" stroke="#8c8c8c" stroke-width="0.9" />
<text x="511.20" y="653.20" font-size="8.8" fill="#3a3a3a" textLength="4.80" lengthAdjust="spacingAndGlyphs">0</text>
<line x1="547.40" y1="650.00" x2="547.40" y2="653.70" stroke="#8c8c8c" stroke-width="0.9" />
<line x1="600.10" y1="650.00" x2="600.10" y2="653.70" stroke="#8c8c8c" stroke-width="0.9" />
<line x1="652.60" y1="650.00" x2="652.60" y2="653.70" stroke="#8c8c8c" stroke-width="0.9" />
<text transform="translate(492.4,646) rotate(-90)" font-size="9" fill="#333" textLength="93.4" lengthAdjust="spacingAndGlyphs">Normalized expression</text>
<text x="532.40" y="664.60" font-size="9" fill="#333" textLength="30.80" lengthAdjust="spacingAndGlyphs" font-style="italic">RBFOX1</text>
<text x="584.20" y="664.60" font-size="9" fill="#333" textLength="32.00" lengthAdjust="spacingAndGlyphs" font-style="italic">RBFOX2</text>
<text x="637.10" y="664.60" font-size="9" fill="#333" textLength="32.10" lengthAdjust="spacingAndGlyphs" font-style="italic">RBFOX3</text>
<text x="575.4" y="549.9" font-size="9.2" fill="#333" textLength="43.8" lengthAdjust="spacingAndGlyphs"><tspan font-style="italic">q</tspan> &lt; 0.0001</text>
<path d="M584.4,557.5 L584.4,553.7 L608.6,553.7 L608.6,557.5" fill="none" stroke="#555" stroke-width="0.9"/>
<circle cx="606.8" cy="565.3" r="1.9" fill="#e8262a"/>
<circle cx="613.1" cy="565.6" r="1.9" fill="#e8262a"/>
<circle cx="610.1" cy="572.2" r="1.9" fill="#e8262a"/>
<circle cx="605.6" cy="578" r="1.9" fill="#e8262a"/>
<circle cx="614.6" cy="578" r="1.9" fill="#e8262a"/>
<circle cx="606.2" cy="579.4" r="1.9" fill="#e8262a"/>
<circle cx="610.1" cy="581.8" r="1.9" fill="#e8262a"/>
<circle cx="613.1" cy="587.4" r="1.9" fill="#e8262a"/>
<circle cx="606.8" cy="591.4" r="1.9" fill="#e8262a"/>
<circle cx="610.1" cy="576" r="1.9" fill="#e8262a"/>
<line x1="610.10" y1="568.00" x2="610.10" y2="586.60" stroke="#e8262a" stroke-width="1.1" />
<line x1="607.00" y1="568.00" x2="612.80" y2="568.00" stroke="#e8262a" stroke-width="1.1" />
<line x1="606.20" y1="586.60" x2="612.20" y2="586.60" stroke="#e8262a" stroke-width="1.1" />
<line x1="603.40" y1="577.80" x2="616.40" y2="577.80" stroke="#e8262a" stroke-width="1.3" />
<polygon points="585.21,608.23 588.71,608.23 588.71,611.15 589.69,611.74 593.19,611.74 593.39,611.15 596.89,611.15 596.89,616.80 593.97,618.36 593.97,620.50 590.86,620.70 590.86,623.62 586.38,623.62 586.38,620.70 585.21,620.70 585.21,617.00 583.65,617.00 583.65,615.25 586.18,615.25 586.18,613.30 585.21,612.52" fill="#231f20"/>
<rect x="530.90" y="646.40" width="12.90" height="4.40" fill="#231f20" rx="1.2"/>
<rect x="550.80" y="646.50" width="13.20" height="4.50" fill="#e8262a" rx="2.2"/>
<rect x="636.20" y="643.90" width="13.50" height="4.60" fill="#231f20" rx="2.2"/>
<rect x="644.10" y="642.20" width="3.60" height="3.00" fill="#231f20" />
<rect x="656.00" y="644.20" width="13.40" height="4.40" fill="#e8262a" rx="2.2"/>
<circle cx="665.5" cy="645" r="1.8" fill="#e8262a"/>
</svg>
</body></html>
